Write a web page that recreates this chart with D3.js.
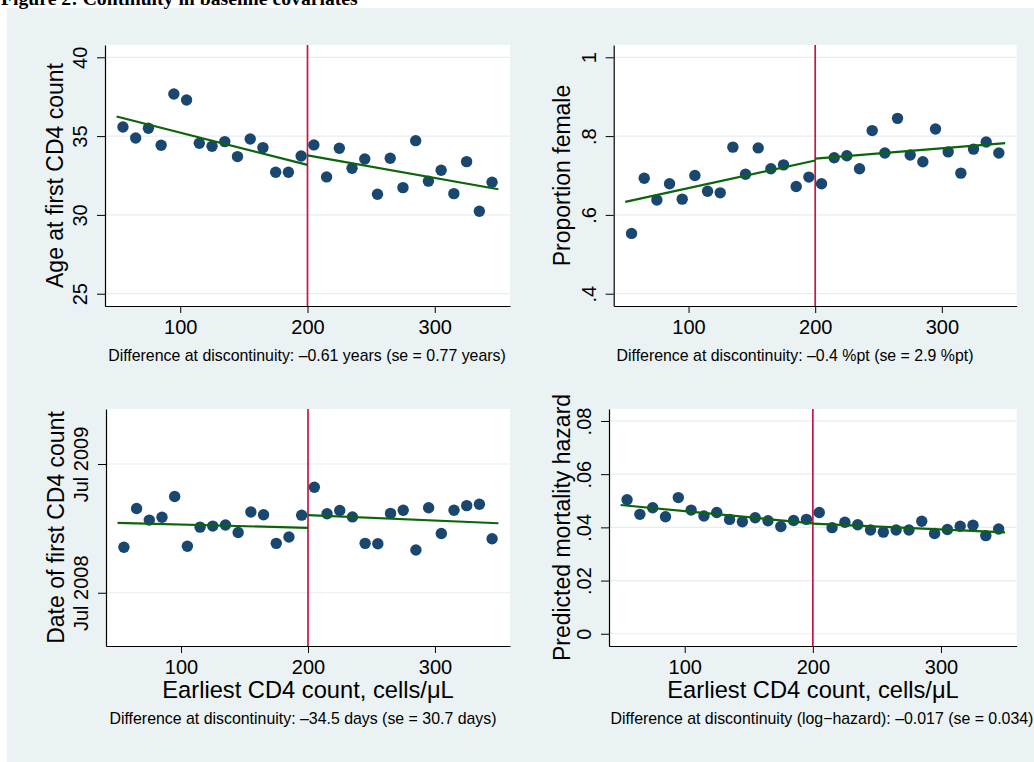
<!DOCTYPE html>
<html>
<head>
<meta charset="utf-8">
<script src="https://cdn.jsdelivr.net/npm/d3@7"></script>
<style>
  html, body { margin: 0; padding: 0; background: #ffffff; }
  svg { display: block; }
  text { font-family: "Liberation Sans", Arial, Helvetica, sans-serif; fill: #000; }
</style>
</head>
<body>
<svg id="fig" width="1034" height="762"></svg>
<script>
// CD4 bins (bin midpoints, cells/uL)
const cd4Bins = [55, 65, 75, 85, 95, 105, 115, 125, 135, 145, 155, 165, 175, 185, 195,
                 205, 215, 225, 235, 245, 255, 265, 275, 285, 295, 305, 315, 325, 335, 345];

// Mean age at first CD4 count, by bin
const ageAtFirstCount = [35.58, 34.88, 35.50, 34.42, 37.67, 37.29, 34.55, 34.36, 34.65, 33.70,
                         34.82, 34.27, 32.71, 32.71, 33.74, 34.44, 32.41, 34.23, 32.96, 33.55,
                         31.31, 33.59, 31.73, 34.71, 32.14, 32.83, 31.35, 33.38, 30.23, 32.07];

// Proportion female, by bin
const proportionFemale = [0.553, 0.693, 0.638, 0.679, 0.640, 0.700, 0.660, 0.656, 0.772, 0.703,
                          0.770, 0.717, 0.727, 0.672, 0.696, 0.679, 0.745, 0.750, 0.717, 0.814,
                          0.757, 0.845, 0.752, 0.735, 0.818, 0.760, 0.706, 0.767, 0.785, 0.757];

// Mean date of first CD4 count, in days after 1 Jul 2008, by bin
const firstCountDays = [128.6, 239.2, 206.1, 213.7, 273.3, 132.4, 186.3, 189.1, 192.0, 171.1,
                        228.8, 221.3, 139.9, 157.9, 220.3, 298.8, 224.1, 232.6, 214.7, 139.9,
                        139.0, 225.0, 233.6, 121.0, 241.1, 168.3, 233.6, 246.8, 250.6, 153.2];

// Predicted mortality hazard, by bin
const mortalityHazard = [0.0504, 0.0449, 0.0474, 0.0440, 0.0512, 0.0465, 0.0443, 0.0456, 0.0430, 0.0421,
                         0.0436, 0.0425, 0.0403, 0.0426, 0.0430, 0.0456, 0.0399, 0.0419, 0.0410, 0.0390,
                         0.0382, 0.0390, 0.0390, 0.0423, 0.0377, 0.0392, 0.0404, 0.0408, 0.0369, 0.0394];

// Linear fits on each side of the 200 cells/uL threshold (values at the segment ends)
const threshold = 200;
const fitLeftX = [50, 200];
const fitRightX = [200, 350];
const ageFitLeft = [36.24, 33.17];
const ageFitRight = [33.78, 31.63];
const femaleFitLeft = [0.633, 0.738];
const femaleFitRight = [0.743, 0.782];
const dateFitLeft = [197.6, 184.4];
const dateFitRight = [220.3, 196.7];
const hazardFitLeft = [0.0484, 0.0415];
const hazardFitRight = [0.0414, 0.0381];

// Axis ticks
const cd4Ticks = [100, 200, 300];
const ageTicks = [25, 30, 35, 40];
const femaleTicks = [0.4, 0.6, 0.8, 1];
const dateTickDays = [0, 365];
const hazardTicks = [0, 0.02, 0.04, 0.06, 0.08];

// Labels
const figureTitle = "Figure 2: Continuity in baseline covariates";
const xTitle = "Earliest CD4 count, cells/\u03BCL";
const yTitles = ["Age at first CD4 count", "Proportion female", "Date of first CD4 count", "Predicted mortality hazard"];
const captions = [
  "Difference at discontinuity: \u20130.61 years (se = 0.77 years)",
  "Difference at discontinuity: \u20130.4 %pt (se = 2.9 %pt)",
  "Difference at discontinuity: \u201334.5 days (se = 30.7 days)",
  "Difference at discontinuity (log\u2212hazard): \u20130.017 (se = 0.034)"
];

const dateOrigin = new Date(2008, 6, 1);
const fmtStata = d => d === 0 ? "0" : String(d).replace(/^0\./, ".");
const fmtDate = d3.timeFormat("%b %Y");
const toDate = days => d3.timeDay.offset(dateOrigin, Math.round(days));

const colors = {
  bg: "#EAF2F3",
  grid: "#E4EDF0",
  marker: "#1A476F",
  fit: "#0B650B",
  cutoff: "#CC1444"
};

const svg = d3.select("#fig");

// Outer graph region
svg.append("rect").attr("x", 7).attr("y", 8).attr("width", 1027).attr("height", 754).attr("fill", colors.bg);

// Figure title (runs off the top edge of the page)
svg.append("text")
  .attr("x", 1).attr("y", 5)
  .style("font-family", "'Liberation Serif', 'Times New Roman', serif")
  .style("font-weight", "bold")
  .style("font-size", "19.7px")
  .text(figureTitle);

const panels = [
  { box: [105, 510, 45, 306], yDomain: [24.22, 40.78], yScaleType: "linear",
    values: ageAtFirstCount, fitL: ageFitLeft, fitR: ageFitRight,
    yTicks: ageTicks, yFmt: fmtStata, yTitle: yTitles[0], yTitleX: 63,
    caption: captions[0], capX: 307, capY: 361, showXTitle: false },
  { box: [613.7, 1016.7, 45, 306], yDomain: [0.3688, 1.0312], yScaleType: "linear",
    values: proportionFemale, fitL: femaleFitLeft, fitR: femaleFitRight,
    yTicks: femaleTicks, yFmt: fmtStata, yTitle: yTitles[1], yTitleX: 570,
    caption: captions[1], capX: 795, capY: 361, showXTitle: false },
  { box: [106, 510, 409, 646], yDomain: [-151, 521], yScaleType: "time",
    values: firstCountDays, fitL: dateFitLeft, fitR: dateFitRight,
    yTicks: dateTickDays, yFmt: null, yTitle: yTitles[2], yTitleX: 64,
    caption: captions[2], capX: 303, capY: 723.5, showXTitle: true, xTitleX: 308 },
  { box: [609, 1016.7, 409, 646], yDomain: [-0.0046, 0.0845], yScaleType: "linear",
    values: mortalityHazard, fitL: hazardFitLeft, fitR: hazardFitRight,
    yTicks: hazardTicks, yFmt: fmtStata, yTitle: yTitles[3], yTitleX: 570,
    caption: captions[3], capX: 822, capY: 723.5, showXTitle: true, xTitleX: 813 }
];

panels.forEach(p => {
  const [left, right, top, bottom] = p.box;
  const x = d3.scaleLinear().domain([40.9, 359.1]).range([left, right]);

  let y, yv;
  if (p.yScaleType === "time") {
    y = d3.scaleTime().domain(p.yDomain.map(toDate)).range([bottom, top]);
    yv = v => y(toDate(v));
  } else {
    y = d3.scaleLinear().domain(p.yDomain).range([bottom, top]);
    yv = v => y(v);
  }

  const g = svg.append("g");

  // Plot region
  g.append("rect").attr("x", left).attr("y", top)
    .attr("width", right - left).attr("height", bottom - top).attr("fill", "#ffffff");

  // Horizontal gridlines
  g.append("g").selectAll("line").data(p.yTicks).join("line")
    .attr("x1", left).attr("x2", right)
    .attr("y1", d => yv(d)).attr("y2", d => yv(d))
    .attr("stroke", colors.grid).attr("stroke-width", 1.2);

  // Threshold line
  g.append("line")
    .attr("x1", x(threshold)).attr("x2", x(threshold))
    .attr("y1", top).attr("y2", bottom)
    .attr("stroke", colors.cutoff).attr("stroke-width", 1.7);

  // Binned means
  g.append("g").selectAll("circle").data(cd4Bins).join("circle")
    .attr("cx", d => x(d))
    .attr("cy", (d, i) => yv(p.values[i]))
    .attr("r", 5.7)
    .attr("fill", colors.marker);

  // Fitted lines on each side of the threshold
  const line = d3.line().x(d => x(d[0])).y(d => yv(d[1]));
  [[fitLeftX, p.fitL], [fitRightX, p.fitR]].forEach(([xs, ys]) => {
    g.append("path")
      .datum(xs.map((v, i) => [v, ys[i]]))
      .attr("d", line)
      .attr("fill", "none")
      .attr("stroke", colors.fit)
      .attr("stroke-width", 2.2);
  });

  // X axis
  const xAxis = g.append("g").attr("transform", `translate(0,${bottom})`)
    .call(d3.axisBottom(x).tickValues(cd4Ticks).tickSize(7).tickSizeOuter(0).tickPadding(3));
  xAxis.select(".domain").attr("stroke", "#000").attr("stroke-width", 1.2);
  xAxis.selectAll(".tick line").attr("stroke", "#000").attr("stroke-width", 1);
  xAxis.selectAll(".tick text")
    .attr("y", 28).attr("dy", 0)
    .style("font-size", "20px")
    .style("font-family", "'Liberation Sans', Arial, sans-serif");

  // Y axis with vertical tick labels
  let yAxisGen = d3.axisLeft(y).tickSize(8).tickSizeOuter(0);
  if (p.yScaleType === "time") {
    yAxisGen = yAxisGen.tickValues(p.yTicks.map(toDate)).tickFormat(fmtDate);
  } else {
    yAxisGen = yAxisGen.tickValues(p.yTicks).tickFormat(p.yFmt);
  }
  const yAxis = g.append("g").attr("transform", `translate(${left},0)`).call(yAxisGen);
  yAxis.select(".domain").attr("stroke", "#000").attr("stroke-width", 1.2);
  yAxis.selectAll(".tick line").attr("stroke", "#000").attr("stroke-width", 1);
  yAxis.selectAll(".tick text")
    .attr("transform", "rotate(-90)")
    .attr("x", 0).attr("y", -18).attr("dy", 0)
    .attr("text-anchor", "middle")
    .style("font-size", "20px")
    .style("font-family", "'Liberation Sans', Arial, sans-serif");

  // Y title
  g.append("text")
    .attr("transform", `translate(${p.yTitleX},${(top + bottom) / 2}) rotate(-90)`)
    .attr("text-anchor", "middle")
    .style("font-size", "23px")
    .text(p.yTitle);

  // X title (bottom row only)
  if (p.showXTitle) {
    g.append("text")
      .attr("x", p.xTitleX).attr("y", bottom + 52)
      .attr("text-anchor", "middle")
      .style("font-size", "23.7px")
      .text(xTitle);
  }

  // Note with the estimated jump
  g.append("text")
    .attr("x", p.capX).attr("y", p.capY)
    .attr("text-anchor", "middle")
    .style("font-size", "15.9px")
    .text(p.caption);
});
</script>
</body>
</html>
